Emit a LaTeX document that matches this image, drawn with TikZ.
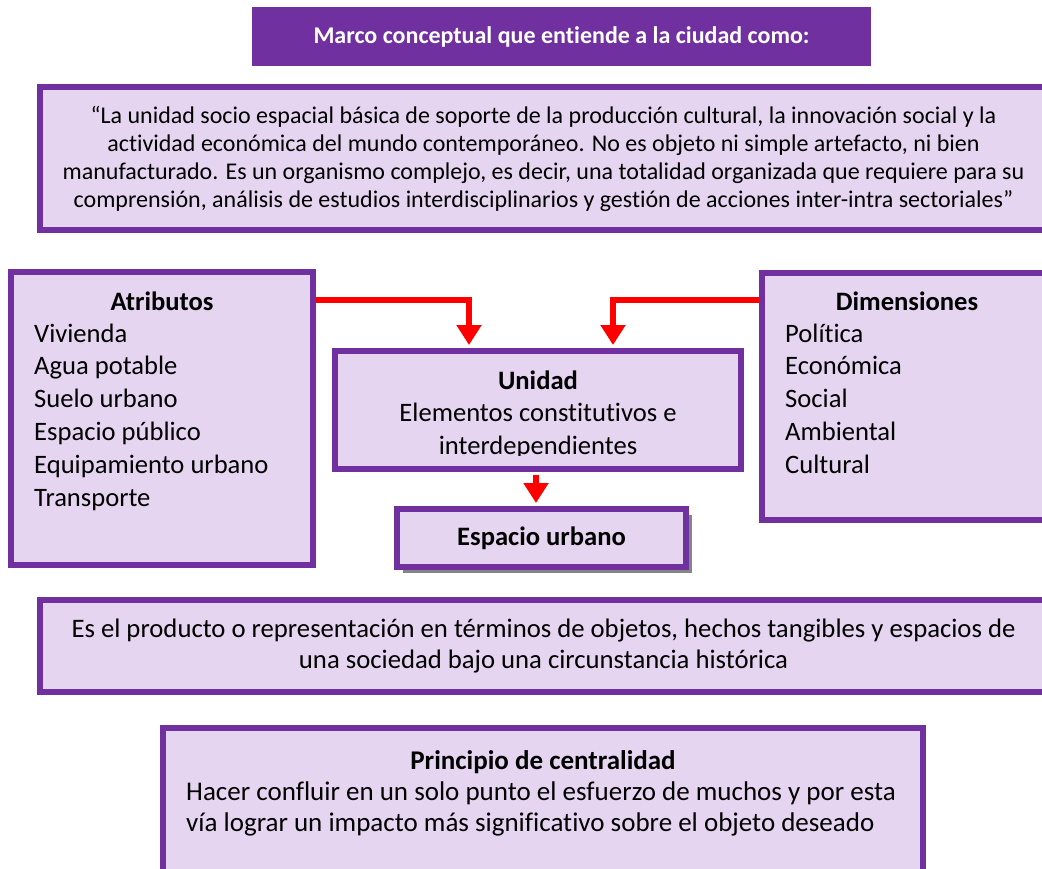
\documentclass[tikz,border=0pt]{standalone}
\usepackage{fontspec}
\setmainfont{Carlito}[Ligatures=NoCommon]
\usetikzlibrary{arrows.meta,shadows}
\definecolor{vio}{HTML}{7030A0}
\definecolor{lav}{HTML}{E6D5F1}
\definecolor{rojo}{HTML}{FF0000}
\definecolor{sombra}{HTML}{858585}
\newcommand{\bodyfont}{\fontsize{26.6}{32.8}\selectfont}
\newcommand{\quotefont}{\fontsize{24}{28}\selectfont}
\newcommand{\lowfont}{\fontsize{26.7}{31}\selectfont}
\newcommand{\cenfont}{\fontsize{27}{31}\selectfont}
\tikzset{
  box/.style={draw=vio, line width=6pt, fill=lav, inner sep=0pt, rectangle},
  redarrow/.style={draw=rojo, line width=6pt, -{Triangle[width=24pt,length=20pt]}},
  txt/.style={inner sep=0pt, text=black},
}
\begin{document}
\begin{tikzpicture}[x=1pt,y=-1pt]
\useasboundingbox (0,0) rectangle (1042,868);
\clip (0,0) rectangle (1042,868);

% title
\node[fill=vio, inner sep=0pt, minimum width=619pt, minimum height=59pt,
      text=white, font=\fontsize{24}{28}\selectfont\bfseries] (title) at (561.5,36.5)
  {Marco conceptual que entiende a la ciudad como:};

% quote
\node[box, minimum width=1007pt, minimum height=143pt, align=center, font=\quotefont] (quote) at (543.5,158.5)
  {“La unidad socio espacial básica de soporte de la producción cultural, la innovación social y la\\
   actividad económica del mundo contemporáneo. No es objeto ni simple artefacto, ni bien\\
   manufacturado. Es un organismo complejo, es decir, una totalidad organizada que requiere para su\\
   comprensión, análisis de estudios interdisciplinarios y gestión de acciones inter-intra sectoriales”};

% Atributos
\node[box, minimum width=302pt, minimum height=293pt] (atr) at (162,418.5) {};
\node[txt, anchor=base, font=\bodyfont\bfseries] (atrT) at (162,310) {Atributos};
\node[txt, anchor=base west, font=\bodyfont] (atrL) at (34,342)
  {\begin{tabular}[t]{@{}l@{}}Vivienda\\ Agua potable\\ Suelo urbano\\ Espacio público\\ Equipamiento urbano\\ Transporte\end{tabular}};

% Dimensiones
\node[box, minimum width=290pt, minimum height=247pt] (dim) at (907,396.5) {};
\node[txt, anchor=base, font=\bodyfont\bfseries] (dimT) at (907,310) {Dimensiones};
\node[txt, anchor=base west, font=\bodyfont] (dimL) at (785,342)
  {\begin{tabular}[t]{@{}l@{}}Política\\ Económica\\ Social\\ Ambiental\\ Cultural\end{tabular}};

% Unidad
\node[box, minimum width=406pt, minimum height=118pt] (uni) at (538,410) {};
\begin{scope}
  \clip (332,348) rectangle (744,455);
  \node[txt, anchor=base, font=\bodyfont] (uniT) at (538,389)
    {\begin{tabular}[t]{@{}c@{}}\textbf{Unidad}\\ Elementos constitutivos e\\ interdependientes\end{tabular}};
\end{scope}

% Espacio urbano
\node[box, minimum width=289pt, minimum height=58pt, font=\bodyfont\bfseries,
      drop shadow={shadow xshift=6pt, shadow yshift=-6pt, fill=sombra, opacity=1}] (esp) at (541.5,538)
  {Espacio urbano};

% Es el producto
\node[box, minimum width=1007pt, minimum height=92pt, align=center, font=\lowfont] (prod) at (543.5,646)
  {Es el producto o representación en términos de objetos, hechos tangibles y espacios de\\
   una sociedad bajo una circunstancia histórica};

% Principio de centralidad
\node[box, minimum width=760pt, minimum height=144pt] (cen) at (543,800) {};
\node[txt, anchor=base, font=\cenfont\bfseries] (cenT) at (543,769) {Principio de centralidad};
\node[txt, anchor=base west, font=\cenfont] (cenL) at (186,800)
  {\begin{tabular}[t]{@{}l@{}}Hacer confluir en un solo punto el esfuerzo de muchos y por esta\\
   vía lograr un impacto más significativo sobre el objeto deseado\end{tabular}};

% arrows
\draw[redarrow] ([yshift=-31pt]atr.north east) -| ([xshift=-69pt,yshift=3pt]uni.north);
\draw[redarrow] ([yshift=-30pt]dim.north west) -| ([xshift=75pt,yshift=3pt]uni.north);
\draw[redarrow] ([xshift=-2pt,yshift=-3pt]uni.south) -- ([xshift=-2pt,yshift=3pt]uni.south |- esp.north);
\end{tikzpicture}
\end{document}
